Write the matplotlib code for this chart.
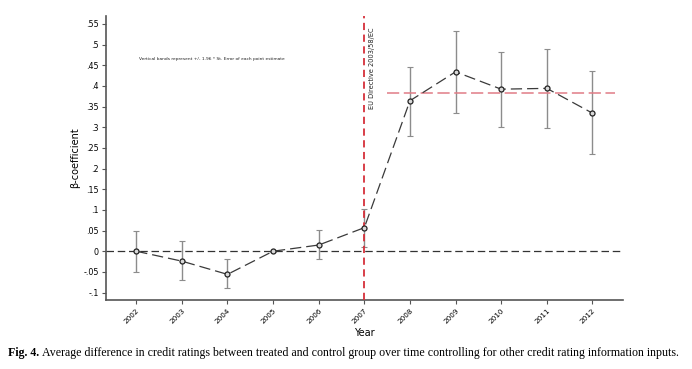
import matplotlib.pyplot as plt

# data
years = [2002, 2003, 2004, 2005, 2006, 2007, 2008, 2009, 2010, 2011, 2012]
beta = [0.0, -0.024, -0.056, 0.0, 0.015, 0.057, 0.364, 0.434, 0.392, 0.394, 0.334]
ci_high = [0.048, 0.024, -0.019, 0.001, 0.052, 0.102, 0.446, 0.533, 0.482, 0.490, 0.435]
ci_low = [-0.050, -0.070, -0.090, -0.001, -0.020, 0.010, 0.279, 0.334, 0.301, 0.298, 0.234]
post_mean = 0.3835

yticks = [-0.1, -0.05, 0, 0.05, 0.1, 0.15, 0.2, 0.25, 0.3, 0.35, 0.4, 0.45, 0.5, 0.55]
ytick_labels = ['-.1', '-.05', '0', '.05', '.1', '.15', '.2', '.25', '.3', '.35', '.4', '.45', '.5', '.55']

fig = plt.figure(figsize=(6.92, 3.69), dpi=100)
ax = fig.add_axes([0.1527, 0.187, 0.7476, 0.7696])

# error bars
err_lo = [b - l for b, l in zip(beta, ci_low)]
err_hi = [h - b for b, h in zip(beta, ci_high)]
ax.errorbar(years, beta, yerr=[err_lo, err_hi], fmt='none', ecolor='#8c8c8c',
            elinewidth=1.0, capsize=2, capthick=0.8, zorder=2)

# zero reference line
ax.axhline(0, color='#333333', linestyle=(0, (6, 3)), linewidth=0.9, zorder=1)

# event line and post-period mean
ax.axvline(2007, color='#d62f3a', linestyle=(0, (4, 2.5)), linewidth=1.3, zorder=3)
ax.hlines(post_mean, 2007.5, 2012.5, colors='#e07c86', linestyles=(0, (8, 3)),
          linewidth=1.1, zorder=3)

# point estimates
ax.plot(years, beta, color='#3a3a3a', linestyle=(0, (9, 4)), linewidth=0.9,
        marker='o', markersize=3.6, markerfacecolor='#d9d9d9',
        markeredgecolor='#222222', markeredgewidth=0.9, zorder=4)

ax.text(2007.17, 0.542, 'EU Directive 2003/58/EC', rotation=90, ha='center', va='top',
        fontsize=4.8, color='#222222')
ax.text(2003.65, 0.466, 'Vertical bands represent +/- 1.96 * St. Error of each point estimate',
        ha='center', va='center', fontsize=3.2, color='#222222')

ax.set_xlim(2001.33, 2012.67)
ax.set_ylim(-0.118, 0.569)
ax.set_xticks(years)
ax.set_xticklabels([str(y) for y in years], rotation=45, ha='right',
                   rotation_mode='anchor', fontsize=5.2)
ax.set_yticks(yticks)
ax.set_yticklabels(ytick_labels, fontsize=5.8)
ax.tick_params(axis='both', length=3, width=0.8, color='#555555', pad=2)
ax.set_xlabel('Year', fontsize=7, labelpad=3)
ax.set_ylabel('β-coefficient', fontsize=7, labelpad=2)

for side in ['top', 'right']:
    ax.spines[side].set_visible(False)
for side in ['left', 'bottom']:
    ax.spines[side].set_color('#555555')
    ax.spines[side].set_linewidth(1.2)

# caption
cap = fig.text(0.011, 0.043, 'Fig. 4.', fontsize=8.55, family='Liberation Serif',
               fontweight='bold', ha='left', va='center')
ax.annotate('Average difference in credit ratings between treated and control group over time '
            'controlling for other credit rating information inputs.',
            xy=(1, 0.5), xycoords=cap, xytext=(2.5, 0), textcoords='offset points',
            fontsize=8.55, family='Liberation Serif', ha='left', va='center',
            annotation_clip=False)

fig.savefig('out.png', dpi=100)
